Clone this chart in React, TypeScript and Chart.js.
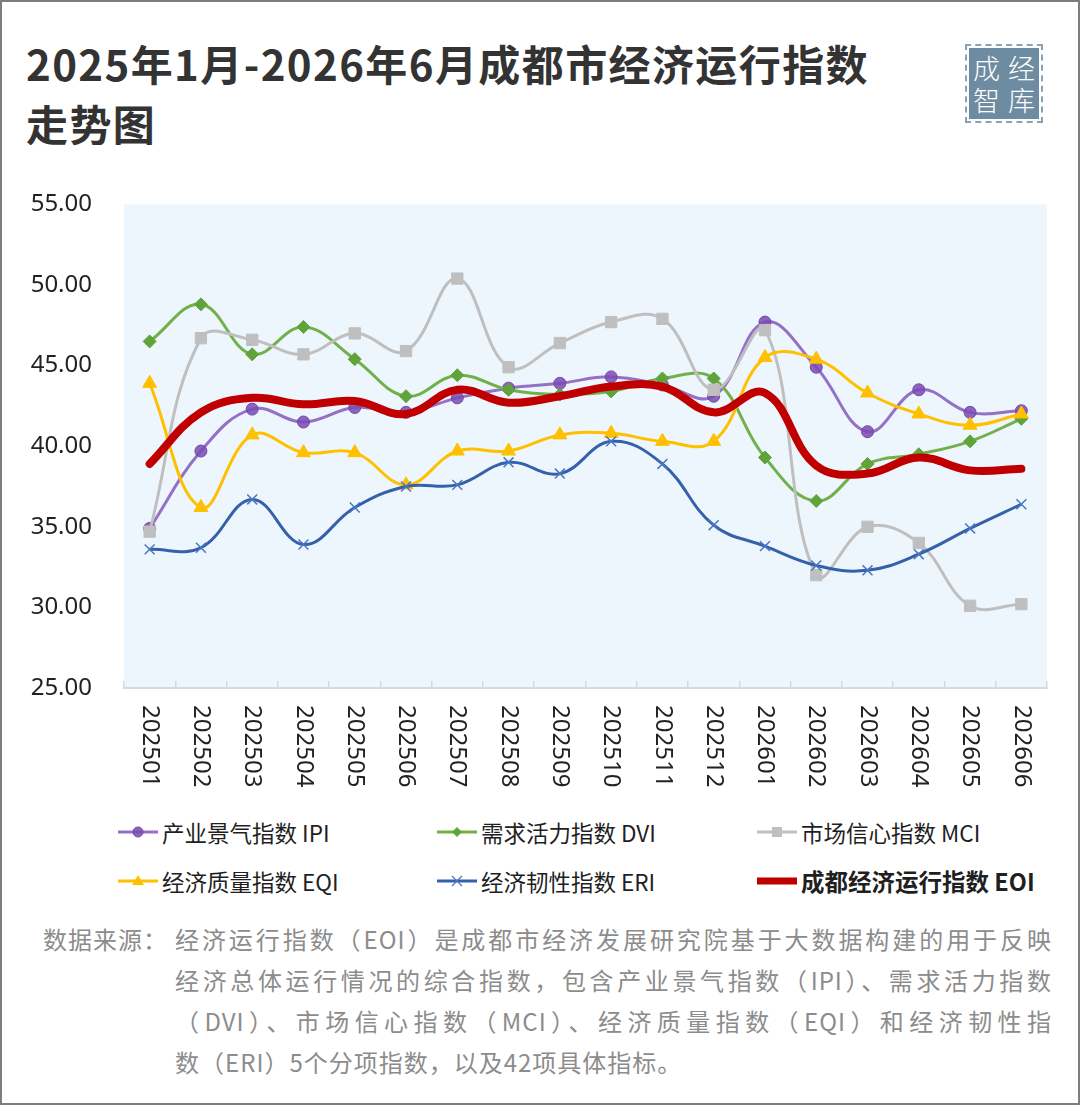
import React, { useEffect, useRef } from 'react';
import { Chart, registerables } from 'chart.js';

Chart.register(...registerables);

// Months on the category axis
const months = [
  '202501', '202502', '202503', '202504', '202505', '202506',
  '202507', '202508', '202509', '202510', '202511', '202512',
  '202601', '202602', '202603', '202604', '202605', '202606',
];

// 产业景气指数 IPI
const ipi = [34.9, 39.7, 42.3, 41.5, 42.4, 42.1, 43.0, 43.6, 43.9, 44.3, 43.8, 43.1, 47.7, 44.9, 40.9, 43.5, 42.1, 42.2];
// 需求活力指数 DVI
const dvi = [46.5, 48.8, 45.7, 47.4, 45.4, 43.1, 44.4, 43.5, 43.2, 43.4, 44.2, 44.2, 39.3, 36.6, 38.9, 39.5, 40.3, 41.7];
// 市场信心指数 MCI
const mci = [34.7, 46.7, 46.6, 45.7, 47.0, 45.9, 50.4, 44.9, 46.4, 47.7, 47.9, 43.5, 47.2, 32.0, 35.0, 34.0, 30.1, 30.2];
// 经济质量指数 EQI
const eqi = [43.9, 36.2, 40.7, 39.6, 39.6, 37.6, 39.7, 39.7, 40.7, 40.8, 40.3, 40.3, 45.5, 45.4, 43.3, 42.0, 41.3, 42.0];
// 经济韧性指数 ERI
const eri = [33.6, 33.7, 36.7, 33.9, 36.2, 37.5, 37.6, 39.0, 38.3, 40.3, 38.9, 35.1, 33.8, 32.6, 32.3, 33.3, 34.9, 36.4];
// 成都经济运行指数 EOI
const eoi = [38.9, 42.1, 43.0, 42.6, 42.8, 42.0, 43.5, 42.7, 43.1, 43.7, 43.7, 42.1, 43.3, 38.8, 38.3, 39.3, 38.5, 38.6];

// Value axis range
const yMin = 25;
const yMax = 55;
const yStep = 5;

const titleLines = ['2025年1月-2026年6月成都市经济运行指数', '走势图'];

const legendNames = [
  '产业景气指数 IPI',
  '需求活力指数 DVI',
  '市场信心指数 MCI',
  '经济质量指数 EQI',
  '经济韧性指数 ERI',
  '成都经济运行指数 EOI',
];

const sourceLabel = '数据来源：';
const sourceLines = [
  '经济运行指数（EOI）是成都市经济发展研究院基于大数据构建的用于反映',
  '经济总体运行情况的综合指数，包含产业景气指数（IPI）、需求活力指数',
  '（DVI）、市场信心指数（MCI）、经济质量指数（EQI）和经济韧性指',
  '数（ERI）5个分项指数，以及42项具体指标。',
];

const CJK = '"Noto Sans CJK SC", "Noto Sans", sans-serif';
const LATIN = '"Noto Sans", "DejaVu Sans", sans-serif';

const C = {
  ipiLine: '#9470c6',
  ipiFill: 'rgba(122, 74, 178, 0.85)',
  ipiBorder: '#7446ad',
  dvi: '#72b04a',
  dviPoint: '#5fa33a',
  mci: '#bfbfbf',
  eqi: '#ffc000',
  eriLine: '#3461aa',
  eriPoint: '#4a76c4',
  eoi: '#c00000',
};

const plotBackground = {
  id: 'plotBackground',
  beforeDraw(chart: any) {
    const { ctx, chartArea: a } = chart;
    ctx.save();
    ctx.fillStyle = '#eef6fd';
    ctx.fillRect(a.left, a.top, a.right - a.left, a.bottom - a.top);
    ctx.restore();
  },
};

// Category labels read top-to-bottom under the axis
const verticalMonthLabels = {
  id: 'verticalMonthLabels',
  afterDraw(chart: any) {
    const { ctx, chartArea } = chart;
    const xs = chart.scales.x;
    ctx.save();
    ctx.fillStyle = '#222222';
    ctx.font = `24px ${LATIN}`;
    ctx.textAlign = 'left';
    ctx.textBaseline = 'middle';
    months.forEach((m, i) => {
      const x = xs.getPixelForValue(i);
      ctx.save();
      ctx.translate(x, chartArea.bottom + 17);
      ctx.rotate(Math.PI / 2);
      ctx.fillText(m, 0, 0);
      ctx.restore();
    });
    ctx.restore();
  },
};

function Marker({ kind }: { kind: string }) {
  const w = 40;
  const h = 20;
  const cy = 10;
  const cx = 20;
  let line = C.ipiLine;
  let lw = 3;
  let mark: any = null;
  if (kind === 'ipi') {
    mark = <circle cx={cx} cy={cy} r={5} fill={C.ipiFill} stroke={C.ipiBorder} strokeWidth={1} />;
  } else if (kind === 'dvi') {
    line = C.dvi;
    mark = <polygon points={`${cx},${cy - 5} ${cx + 5},${cy} ${cx},${cy + 5} ${cx - 5},${cy}`} fill={C.dviPoint} />;
  } else if (kind === 'mci') {
    line = C.mci;
    mark = <rect x={cx - 5} y={cy - 5} width={10} height={10} fill={C.mci} />;
  } else if (kind === 'eqi') {
    line = C.eqi;
    mark = <polygon points={`${cx},${cy - 6} ${cx + 6},${cy + 4} ${cx - 6},${cy + 4}`} fill={C.eqi} />;
  } else if (kind === 'eri') {
    line = C.eriLine;
    mark = (
      <g stroke={C.eriPoint} strokeWidth={1.3}>
        <line x1={cx - 5} y1={cy - 5} x2={cx + 5} y2={cy + 5} />
        <line x1={cx - 5} y1={cy + 5} x2={cx + 5} y2={cy - 5} />
      </g>
    );
  } else {
    line = C.eoi;
    lw = 7;
  }
  return (
    <svg width={w} height={h} style={{ display: 'block' }}>
      <line x1={0} y1={cy} x2={w} y2={cy} stroke={line} strokeWidth={lw} strokeLinecap={kind === 'eoi' ? 'round' : 'butt'} />
      {mark}
    </svg>
  );
}

export default function App() {
  const ref = useRef<HTMLCanvasElement | null>(null);

  useEffect(() => {
    if (!ref.current) return;
    const common = { tension: 0.4, fill: false, borderWidth: 3, pointBorderWidth: 1 };
    const chart = new Chart(ref.current, {
      type: 'line',
      data: {
        labels: months,
        datasets: [
          {
            ...common, label: legendNames[0], data: ipi, order: 5,
            borderColor: C.ipiLine, pointStyle: 'circle', pointRadius: 6,
            pointBackgroundColor: C.ipiFill, pointBorderColor: C.ipiBorder,
          },
          {
            ...common, label: legendNames[1], data: dvi, order: 4,
            borderColor: C.dvi, pointStyle: 'rectRot', pointRadius: 6.5,
            pointBackgroundColor: C.dviPoint, pointBorderColor: C.dviPoint,
          },
          {
            ...common, label: legendNames[2], data: mci, order: 3,
            borderColor: C.mci, pointStyle: 'rect', pointRadius: 8,
            pointBackgroundColor: C.mci, pointBorderColor: C.mci,
          },
          {
            ...common, label: legendNames[3], data: eqi, order: 2,
            borderColor: C.eqi, pointStyle: 'triangle', pointRadius: 8,
            pointBackgroundColor: C.eqi, pointBorderColor: C.eqi,
          },
          {
            ...common, label: legendNames[4], data: eri, order: 1,
            borderColor: C.eriLine, pointStyle: 'crossRot', pointRadius: 7,
            pointBorderWidth: 1.5, pointBackgroundColor: C.eriPoint, pointBorderColor: C.eriPoint,
          },
          {
            ...common, label: legendNames[5], data: eoi, order: 0,
            borderColor: C.eoi, borderWidth: 8, pointRadius: 0,
            borderCapStyle: 'round', borderJoinStyle: 'round',
          },
        ],
      },
      options: {
        responsive: false,
        animation: false,
        devicePixelRatio: 1,
        events: [],
        layout: { padding: { top: 22, right: 33, left: 0, bottom: 0 } },
        plugins: { legend: { display: false }, tooltip: { enabled: false } },
        scales: {
          x: {
            type: 'category',
            offset: true,
            grid: {
              display: true,
              offset: true,
              drawOnChartArea: false,
              drawTicks: true,
              tickLength: -7,
              color: '#d9d9d9',
              lineWidth: 1.5,
            },
            border: { display: true, color: '#d9d9d9', width: 2 },
            ticks: { display: false },
            afterFit: (s: any) => { s.height = 112; },
          },
          y: {
            min: yMin,
            max: yMax,
            ticks: {
              stepSize: yStep,
              padding: 32,
              color: '#222222',
              font: { size: 24, family: LATIN },
              callback: (v: any) => Number(v).toFixed(2),
            },
            grid: { display: false, drawTicks: false },
            border: { display: false },
            afterFit: (s: any) => { s.width = 124; },
          },
        },
      },
      plugins: [plotBackground, verticalMonthLabels],
    } as any);
    return () => chart.destroy();
  }, []);

  const legendCols = [118, 437, 757];
  const legendRows = [832, 881];
  const kinds = ['ipi', 'dvi', 'mci', 'eqi', 'eri', 'eoi'];

  return (
    <div
      style={{
        position: 'absolute', left: 0, top: 0, width: 1080, height: 1105,
        background: '#ffffff', boxShadow: 'inset 0 0 0 2px #7d7d7d', overflow: 'hidden',
        fontFamily: CJK,
      }}
    >
      <div
        style={{
          position: 'absolute', left: 26, top: 33, fontSize: 42, lineHeight: '60px',
          fontWeight: 700, color: '#333333', letterSpacing: 1.4, whiteSpace: 'nowrap',
        }}
      >
        {titleLines.map((t) => <div key={t}>{t}</div>)}
      </div>

      {/* stamp */}
      <div style={{ position: 'absolute', left: 965, top: 44, width: 78, height: 79, border: '2px dashed #8aa2b3', boxSizing: 'border-box' }} />
      <div
        style={{
          position: 'absolute', left: 969, top: 48, width: 70, height: 71, background: '#6e8ca1',
          color: '#ffffff', fontSize: 27, fontWeight: 300, lineHeight: '32px',
          display: 'grid', gridTemplateColumns: '1fr 1fr', alignContent: 'center', justifyItems: 'center',
        }}
      >
        <span>成</span><span>经</span><span>智</span><span>库</span>
      </div>

      <canvas ref={ref} width={1080} height={642} style={{ position: 'absolute', left: 0, top: 158, width: 1080, height: 642 }} />

      {legendNames.map((name, i) => {
        const col = i % 3;
        const row = Math.floor(i / 3);
        return (
          <div
            key={name}
            style={{
              position: 'absolute', left: legendCols[col], top: legendRows[row] - 16, height: 32,
              display: 'flex', alignItems: 'center', whiteSpace: 'nowrap',
              fontSize: i === 5 ? 23.5 : 22.5, color: '#1f1f1f', fontWeight: i === 5 ? 700 : 400,
            }}
          >
            <Marker kind={kinds[i]} />
            <span style={{ marginLeft: 4 }}>{name}</span>
          </div>
        );
      })}

      <div style={{ position: 'absolute', left: 43, top: 918, fontSize: 24, lineHeight: '41px', color: '#8c8c8c', letterSpacing: 1 }}>
        {sourceLabel}
      </div>
      <div style={{ position: 'absolute', left: 175, top: 918, width: 877, fontSize: 24, lineHeight: '41px', color: '#8c8c8c', letterSpacing: 1 }}>
        {sourceLines.map((t, i) => (
          <div key={i} style={{ textAlign: i < 3 ? 'justify' : 'left', textAlignLast: i < 3 ? 'justify' : 'left', whiteSpace: 'nowrap' } as any}>
            {t}
          </div>
        ))}
      </div>
    </div>
  );
}
